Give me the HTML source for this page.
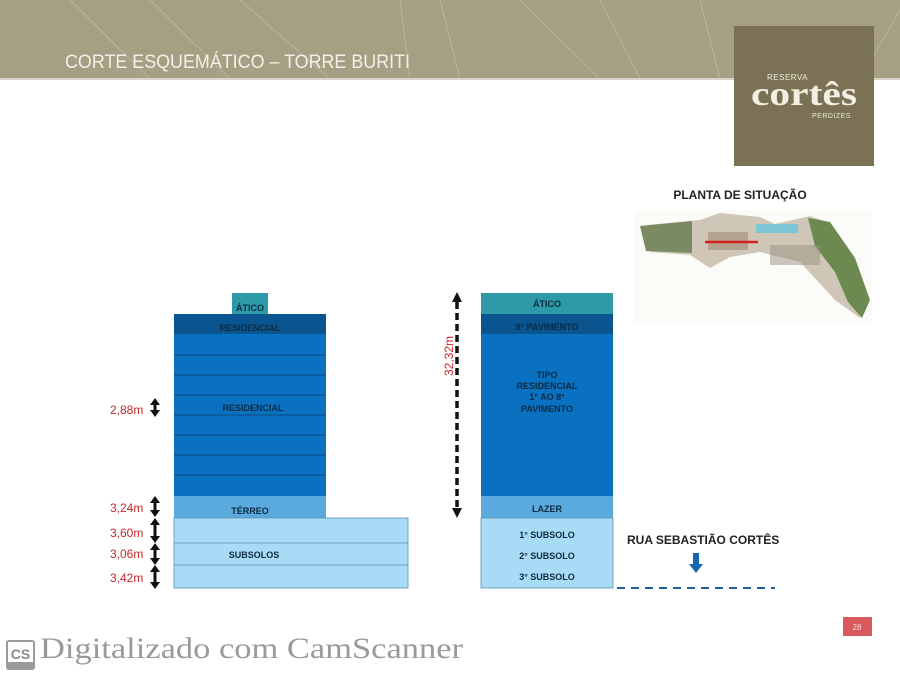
<!DOCTYPE html>
<html><head><meta charset="utf-8"><style>
html,body{margin:0;padding:0;background:#fff}
body{width:900px;height:677px;overflow:hidden;position:relative;font-family:"Liberation Sans",sans-serif}
</style></head><body>
<svg width="900" height="677" viewBox="0 0 900 677" xmlns="http://www.w3.org/2000/svg" style="position:absolute;left:0;top:0">
<rect x="0" y="0" width="900" height="79" fill="#a5a084"/>
<g stroke="#c4c0a8" stroke-width="0.8" fill="none" opacity="0.8">
<line x1="70" y1="0" x2="150" y2="79"/><line x1="150" y1="0" x2="230" y2="79"/><line x1="240" y1="0" x2="330" y2="79"/>
<line x1="520" y1="0" x2="600" y2="79"/><line x1="600" y1="0" x2="640" y2="79"/><line x1="700" y1="0" x2="720" y2="79"/>
<line x1="400" y1="0" x2="410" y2="79"/><line x1="860" y1="79" x2="900" y2="10"/><line x1="440" y1="0" x2="460" y2="79"/>
</g>
<rect x="0" y="78" width="900" height="2" fill="#d8d5c8"/>
<text x="65" y="68" font-size="19" fill="#f2f0e8" font-family="Liberation Sans" textLength="345" lengthAdjust="spacingAndGlyphs">CORTE ESQUEMÁTICO – TORRE BURITI</text>
<rect x="734" y="26" width="140" height="140" fill="#7b7256"/>
<text x="767" y="80" font-size="8" fill="#ece8da" letter-spacing="0.5">RESERVA</text>
<text x="804" y="105" font-size="34" fill="#f3efe2" font-family="Liberation Serif" text-anchor="middle" font-weight="bold" textLength="106" lengthAdjust="spacingAndGlyphs">cortês</text>
<text x="812" y="118" font-size="7" fill="#ece8da" letter-spacing="0.5">PERDIZES</text>

<text x="740" y="199" font-size="12" font-weight="bold" fill="#222" text-anchor="middle">PLANTA DE SITUAÇÃO</text>
<rect x="634" y="210" width="238" height="112" fill="#fbfbf8"/>
<g>
<path d="M647 225 L700 220 L720 213 L760 217 L775 224 L810 216 L830 223 L850 255 L868 300 L860 318 L835 300 L800 262 L760 252 L730 257 L710 268 L690 255 L650 252 Z" fill="#cfc6b8"/>
<path d="M640 226 L692 221 L692 253 L646 251 Z" fill="#7a8a62"/>
<path d="M808 218 L830 222 L855 258 L870 300 L862 318 L848 302 L835 272 L815 246 Z" fill="#6c8a50"/>
<rect x="756" y="224" width="42" height="9" fill="#7dc6d6"/>
<rect x="708" y="232" width="40" height="18" fill="#a08a70" opacity="0.6"/>
<rect x="770" y="245" width="50" height="20" fill="#9a9080" opacity="0.5"/>
<line x1="705" y1="242" x2="758" y2="242" stroke="#d81f1f" stroke-width="2.5"/>
</g>

<rect x="232" y="293" width="36" height="21" fill="#2e9aa8"/>
<text x="250" y="311" font-size="9" font-weight="bold" fill="#0e2a40" text-anchor="middle">ÁTICO</text>
<rect x="174" y="314" width="152" height="20" fill="#0a5590"/>
<text x="250" y="331" font-size="9" font-weight="bold" fill="#0e2a40" text-anchor="middle">RESIDENCIAL</text>
<rect x="174" y="334" width="152" height="162" fill="#0a70c0"/>
<g stroke="#0a4a80" stroke-width="1">
<line x1="174" y1="355" x2="326" y2="355"/><line x1="174" y1="375" x2="326" y2="375"/><line x1="174" y1="395" x2="326" y2="395"/>
<line x1="174" y1="415" x2="326" y2="415"/><line x1="174" y1="435" x2="326" y2="435"/><line x1="174" y1="455" x2="326" y2="455"/><line x1="174" y1="475" x2="326" y2="475"/>
</g>
<text x="253" y="411" font-size="9" font-weight="bold" fill="#0e2a40" text-anchor="middle">RESIDENCIAL</text>
<rect x="174" y="496" width="152" height="22" fill="#5aaade"/>
<text x="250" y="514" font-size="9" font-weight="bold" fill="#0e2a40" text-anchor="middle">TÉRREO</text>
<rect x="174" y="518" width="234" height="70" fill="#a8dcf6" stroke="#5a8fb0" stroke-width="0.8"/>
<line x1="174" y1="543" x2="408" y2="543" stroke="#5a8fb0" stroke-width="0.8"/>
<line x1="174" y1="565" x2="408" y2="565" stroke="#5a8fb0" stroke-width="0.8"/>
<text x="254" y="558" font-size="9" font-weight="bold" fill="#0e2a40" text-anchor="middle">SUBSOLOS</text>

<g font-size="12" fill="#c8282a">
<text x="110" y="414">2,88m</text><text x="110" y="512">3,24m</text><text x="110" y="537">3,60m</text>
<text x="110" y="558">3,06m</text><text x="110" y="582">3,42m</text>
</g>
<g fill="#111">
<path d="M155 398 l-5 7 h10 z M155 417 l-5 -7 h10 z"/><rect x="153.5" y="404" width="3" height="7"/>
<path d="M155 496 l-5 7 h10 z M155 517 l-5 -7 h10 z"/><rect x="153.5" y="502" width="3" height="9"/>
<path d="M155 518 l-5 7 h10 z M155 543 l-5 -7 h10 z"/><rect x="153.5" y="524" width="3" height="13"/>
<path d="M155 543 l-5 7 h10 z M155 565 l-5 -7 h10 z"/><rect x="153.5" y="549" width="3" height="10"/>
<path d="M155 565 l-5 7 h10 z M155 589 l-5 -7 h10 z"/><rect x="153.5" y="571" width="3" height="12"/>
</g>

<rect x="481" y="293" width="132" height="21" fill="#2e9aa8"/>
<text x="547" y="307" font-size="9" font-weight="bold" fill="#0e2a40" text-anchor="middle">ÁTICO</text>
<rect x="481" y="314" width="132" height="20" fill="#0a5590"/>
<text x="547" y="330" font-size="9" font-weight="bold" fill="#0e2a40" text-anchor="middle">9° PAVIMENTO</text>
<rect x="481" y="334" width="132" height="162" fill="#0a70c0"/>
<g font-size="9" font-weight="bold" fill="#0e2a40" text-anchor="middle">
<text x="547" y="378">TIPO</text><text x="547" y="389">RESIDENCIAL</text><text x="547" y="400">1° AO 8°</text><text x="547" y="412">PAVIMENTO</text>
</g>
<rect x="481" y="496" width="132" height="22" fill="#5aaade"/>
<text x="547" y="512" font-size="9" font-weight="bold" fill="#0e2a40" text-anchor="middle">LAZER</text>
<rect x="481" y="518" width="132" height="70" fill="#a8dcf6" stroke="#5a8fb0" stroke-width="0.8"/>
<g font-size="9" font-weight="bold" fill="#0e2a40" text-anchor="middle">
<text x="547" y="538">1° SUBSOLO</text><text x="547" y="559">2° SUBSOLO</text><text x="547" y="580">3° SUBSOLO</text>
</g>
<line x1="457" y1="302" x2="457" y2="508" stroke="#111" stroke-width="3.5" stroke-dasharray="7,4"/>
<path d="M457 292 l-5 10 h10 z M457 518 l-5 -10 h10 z" fill="#111"/>
<text transform="translate(453,376) rotate(-90)" font-size="12" fill="#c8282a">32,32m</text>

<text x="627" y="544" font-size="12" font-weight="bold" fill="#222">RUA SEBASTIÃO CORTÊS</text>
<rect x="693" y="553" width="6" height="12" fill="#1565b0"/>
<path d="M689 564 h14 l-7 9 z" fill="#1565b0"/>
<line x1="617" y1="588" x2="775" y2="588" stroke="#1f5fa0" stroke-width="2" stroke-dasharray="8,6"/>

<rect x="843" y="617" width="29" height="19" fill="#d95a5c"/>
<text x="857" y="630" font-size="8" fill="#f8dede" text-anchor="middle">28</text>

<rect x="6" y="640" width="29" height="30" rx="3" fill="#9a9a9a"/>
<rect x="8" y="642" width="25" height="20" fill="#fff"/>
<text x="20.5" y="659" font-size="14" fill="#8a8a8a" text-anchor="middle" font-weight="bold">CS</text>
<text x="40" y="658" font-size="30" fill="#9a9a9a" font-family="Liberation Serif" textLength="423" lengthAdjust="spacingAndGlyphs">Digitalizado com CamScanner</text>
</svg>
</body></html>
